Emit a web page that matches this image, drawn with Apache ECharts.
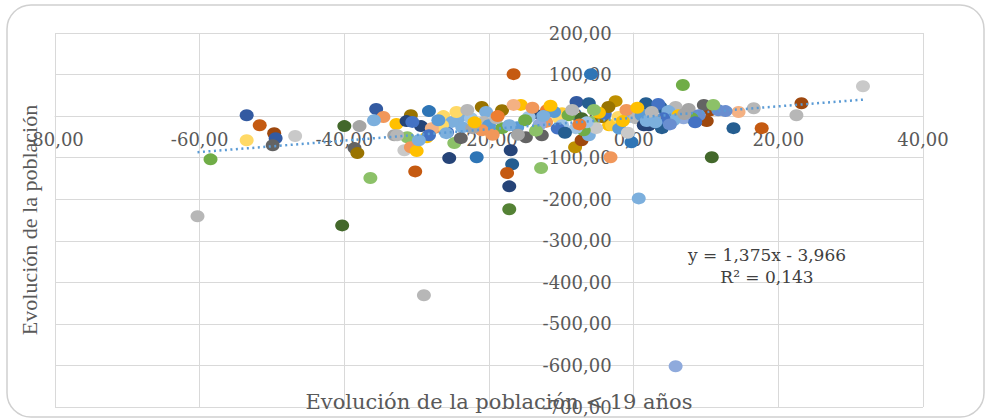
<!DOCTYPE html>
<html><head><meta charset="utf-8">
<script src="https://cdn.jsdelivr.net/npm/echarts@6/dist/echarts.min.js"></script>
<style>html,body{margin:0;padding:0;background:#fff}#chart{width:990px;height:420px}</style>
</head><body><div id="chart"></div>
<script>
// Data: x = Evolución de la población < 19 años, y = Evolución de la población
const xValues = [
  -60.3,-58.5,-53.5,-51.7,-53.5,-49.7,-49.5,-46.8,-49.9,-40.0,
  -40.3,-37.9,-38.6,-38.2,-36.4,-35.6,-34.6,-35.9,-32.8,-33.1,
  -31.3,-31.7,-30.8,-30.0,-30.2,-30.8,-31.4,-29.4,-28.3,-26.3,
  -27.6,-28.6,-25.5,-21.7,-25.8,-24.1,-23.7,-24.8,-23.9,-22.5,
  -21.0,-20.4,-20.7,-18.2,-18.2,-16.1,-16.6,-5.9,-15.6,-12.0,
  -13.8,-14.9,-17.0,-16.8,-17.5,-17.2,-17.2,-12.8,-8.1,-7.2,
  -3.2,-0.3,-7.9,-6.2,-2.5,-9.9,-3.4,0.7,-29.0,5.8,
  6.8,10.8,13.8,17.7,23.2,22.5,31.7,16.6,14.5,12.7,
  10.6,10.1,7.6,9.7,5.8,3.7,3.9,1.5,-16.6,-14.5,
  -17.2,-12.7,-12.1,-10.3,-9.0,-7.2,-5.8,-4.4,-3.0,-2.1,
  -0.7,0.3,1.1,1.4,-6.2,-5.2,-6.9,-8.0,-9.9,-20.0,
  -21.0,-22.3,-25.1,-26.5,-27.9,-28.3,-30.6,-32.7,-29.7,-25.9,
  1.7,3.4,4.8,6.2,7.6,9.0,8.0,6.9,5.5,4.1,
  2.8,2.1,1.8,11.7,11.0,-11.0,-10.5,-13.0,-15.0,-19.0,
  -14.0,-11.5,-8.5,-6.5,-4.0,-1.0,0.5,2.5,-3.5,-9.5,
  -7.5,-2.0,-0.8,-4.8,-16.0,-13.5,-19.5,-22.0,-24.5,-27.0,
  -23.0,-18.8,-12.5,-5.5,-1.5,3.0,5.0,7.0,8.5
];
const yValues = [
  -241,-104,2,-22,-58,-41,-53,-48,-70,-24,
  -263,-24,-77,-89,-149,17,-2,-10,-19,-46,
  -51,-82,-75,-84,-133,2,-12,-24,12,0,
  -29,-51,-101,-99,-39,-2,-27,-65,-53,-5,
  22,10,-14,14,-29,-27,101,101,27,14,
  7,-51,-82,-116,-137,-169,-224,-125,-75,-58,
  -99,-63,34,31,36,7,-22,-198,-431,-602,
  75,-99,-29,-29,31,2,72,19,10,12,
  14,-12,10,27,22,22,-29,15,27,-2,
  -22,-46,-14,-5,2,-5,-14,-2,-22,-2,
  -2,-5,2,-22,-46,-29,-34,-29,-22,-22,
  -34,-29,-14,-22,-29,-46,-14,-46,-58,-41,
  31,29,12,2,17,2,-5,-5,-10,-5,
  -5,-22,-12,14,27,10,-30,-20,-10,-5,
  20,25,15,-15,5,15,20,10,22,-40,
  -20,-30,-40,8,-45,-35,-45,-15,10,-10,
  15,0,0,15,-12,-15,-20,5,-15
];
// Style: colour index of each point into the palette (Excel "vary colours by point")
const pointColorIndex = [
  14,5,18,19,27,7,18,26,8,11,
  11,2,8,9,17,18,13,16,3,2,
  17,26,13,3,19,9,6,6,22,27,
  13,3,6,22,0,16,16,17,8,28,
  9,16,14,9,5,4,19,22,3,1,
  6,8,6,10,19,6,23,17,21,7,
  13,22,18,10,21,15,3,16,14,24,
  5,11,10,19,7,14,26,14,25,12,
  7,7,8,8,14,10,10,4,25,28,
  16,8,13,27,5,11,17,9,15,27,
  16,14,4,6,16,26,5,28,28,4,
  13,2,16,27,25,0,0,14,16,16,
  10,0,16,3,2,12,5,24,16,0,
  2,6,16,12,17,4,0,24,5,14,
  13,3,14,28,0,13,3,14,9,10,
  1,4,26,3,2,17,13,3,27,4,
  14,1,16,17,3,16,12,2,0
];
const palette = ['#4472C4','#ED7D31','#A5A5A5','#FFC000','#5B9BD5','#70AD47','#264478','#9E480E','#636363','#997300',
  '#255E91','#43682B','#698ED0','#F1975A','#B7B7B7','#FFCD33','#7CAFDD','#8CC168','#335AA1','#C55A11',
  '#7C7C7C','#BF9000','#2E75B6','#548235','#8FAADC','#F4B183','#C9C9C9','#FFD966','#9DC3E6','#A9D18E'];

const xAxisTitle = 'Evolución de la población < 19 años';
const yAxisTitle = 'Evolución de la población';
const trendSlope = 1.375;
const trendIntercept = -3.966;
const trendR2 = 0.143;
const xMin = -80, xMax = 40, xStep = 20;
const yMin = -700, yMax = 200, yStep = 100;

function fmt(v, d) { return v.toFixed(d).replace('.', ','); }

const points = xValues.map((x, i) => [x, yValues[i]]);
const tx0 = Math.min(...xValues), tx1 = Math.max(...xValues);
const trend = [[tx0, trendSlope * tx0 + trendIntercept], [tx1, trendSlope * tx1 + trendIntercept]];

const serif = '"DejaVu Serif", serif';
const gridColor = '#D9D9D9';
const textColor = '#595959';

const gridBox = { left: 55, right: 67, top: 33, bottom: 13 };
const W = 990, H = 420;
const gridW = W - gridBox.left - gridBox.right;
const gridH = H - gridBox.top - gridBox.bottom;
// place each axis line where the other axis is zero
const xAxisOffset = -gridH * (0 - yMin) / (yMax - yMin);
const yAxisOffset = -gridW * (0 - xMin) / (xMax - xMin);

const chart = echarts.init(document.getElementById('chart'), null, { renderer: 'svg' });
chart.setOption({
  animation: false,
  backgroundColor: '#ffffff',
  grid: Object.assign({ containLabel: false, outerBoundsMode: 'none' }, gridBox),
  xAxis: {
    type: 'value', min: xMin, max: xMax, interval: xStep,
    position: 'bottom', offset: xAxisOffset,
    axisLine: { show: true, onZero: false, lineStyle: { color: gridColor } },
    axisTick: { show: false },
    splitLine: { lineStyle: { color: gridColor, width: 1 } },
    axisLabel: { formatter: v => fmt(v, 2), color: textColor, fontFamily: serif, fontSize: 18, margin: 14 }
  },
  yAxis: {
    type: 'value', min: yMin, max: yMax, interval: yStep,
    position: 'left', offset: yAxisOffset,
    axisLine: { show: true, onZero: false, lineStyle: { color: gridColor } },
    axisTick: { show: false },
    splitLine: { lineStyle: { color: gridColor, width: 1 } },
    axisLabel: { formatter: v => fmt(v, 2), color: textColor, fontFamily: serif, fontSize: 18, margin: 22 }
  },
  series: [
    {
      type: 'scatter', data: points, symbol: 'circle', symbolSize: [14, 12],
      itemStyle: { color: p => palette[pointColorIndex[p.dataIndex] % palette.length], opacity: 1 },
      z: 2
    },
    {
      type: 'line', data: trend, showSymbol: false, symbol: 'none',
      lineStyle: { color: '#5B9BD5', width: 2.5, type: [2, 3.5] },
      z: 3
    }
  ],
  graphic: [
    { type: 'rect', z: -1, shape: { x: 7, y: 5, width: 977, height: 412, r: 24 },
      style: { fill: 'none', stroke: '#D0D0D0', lineWidth: 1.5 } },
    { type: 'text', z: 10, x: 499, y: 402,
      style: { text: xAxisTitle, font: '21px "DejaVu Serif", serif', fill: textColor, textAlign: 'center', textVerticalAlign: 'middle' } },
    { type: 'text', z: 10, x: 29, y: 220, rotation: Math.PI / 2,
      style: { text: yAxisTitle, font: '22px "Liberation Serif", serif', fill: textColor, textAlign: 'center', textVerticalAlign: 'middle' } },
    { type: 'text', z: 10, x: 767, y: 255,
      style: { text: 'y = ' + fmt(trendSlope, 3) + 'x - ' + fmt(Math.abs(trendIntercept), 3), font: '17px "DejaVu Serif", serif', fill: '#404040', textAlign: 'center', textVerticalAlign: 'middle' } },
    { type: 'text', z: 10, x: 767, y: 277,
      style: { text: 'R² = ' + fmt(trendR2, 3), font: '17px "DejaVu Serif", serif', fill: '#404040', textAlign: 'center', textVerticalAlign: 'middle' } }
  ]
});
</script>
</body></html>
